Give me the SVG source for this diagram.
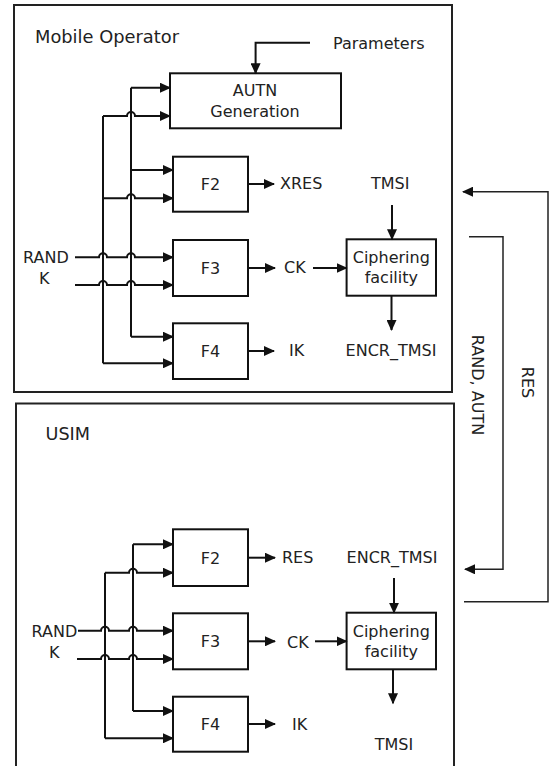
<svg xmlns="http://www.w3.org/2000/svg" width="549" height="766" viewBox="0 0 549 766">
<defs>
<marker id="ah" markerUnits="userSpaceOnUse" markerWidth="12" markerHeight="10" refX="10" refY="5" orient="auto">
<path d="M0,0 L11,5 L0,10 Z" fill="#111"/>
</marker>
<style>
.frame{fill:#fff;stroke:#222;stroke-width:2}
.box{fill:#fff;stroke:#111;stroke-width:2}
.ln{fill:none;stroke:#111;stroke-width:2}
.ar{fill:none;stroke:#111;stroke-width:2;marker-end:url(#ah)}
.thin{fill:none;stroke:#222;stroke-width:1.5}
.thinar{fill:none;stroke:#222;stroke-width:1.5;marker-end:url(#ah)}
text{font-family:"DejaVu Sans","Liberation Sans",sans-serif;font-size:16px;fill:#222}
.c{text-anchor:middle}
.title{font-size:17.5px}
</style>
</defs>
<rect width="549" height="766" fill="#fff"/>

<g id="mobile-operator">
<rect class="frame" x="14" y="5" width="438" height="387"/>
<text class="title" x="35" y="43" textLength="144" lengthAdjust="spacingAndGlyphs">Mobile Operator</text>
</g>
<g id="usim">
<rect class="frame" x="16" y="403.5" width="438" height="370"/>
<text class="title" x="45.5" y="440" textLength="44.5" lengthAdjust="spacingAndGlyphs">USIM</text>
</g>

<g id="mo-autn"><rect class="box" x="170" y="73.3" width="171" height="55"/><text class="c" x="255" y="96">AUTN</text><text class="c" x="255" y="117">Generation</text></g>
<g id="mo-f2"><rect class="box" x="173" y="156.7" width="75" height="55"/><text class="c" x="210.5" y="190">F2</text></g>
<g id="mo-f3"><rect class="box" x="173" y="240" width="75" height="56"/><text class="c" x="210.5" y="274">F3</text></g>
<g id="mo-f4"><rect class="box" x="173" y="323.3" width="75" height="55.7"/><text class="c" x="210.5" y="357">F4</text></g>
<g id="mo-cipher"><rect class="box" x="346.6" y="239.3" width="89.4" height="56.4"/><text class="c" x="391.3" y="262.5">Ciphering</text><text class="c" x="391.3" y="283">facility</text></g>
<g id="mo-labels">
<text x="333" y="48.5">Parameters</text>
<text x="280" y="189">XRES</text>
<text x="371" y="189">TMSI</text>
<text x="23" y="263">RAND</text>
<text x="39" y="284">K</text>
<text x="284" y="273">CK</text>
<text x="289" y="356">IK</text>
<text class="c" x="391" y="356">ENCR_TMSI</text>
</g>

<g id="us-f2"><rect class="box" x="173" y="529.3" width="75" height="56.7"/><text class="c" x="210.5" y="563.5">F2</text></g>
<g id="us-f3"><rect class="box" x="173" y="613.3" width="75" height="56"/><text class="c" x="210.5" y="647">F3</text></g>
<g id="us-f4"><rect class="box" x="173" y="696.7" width="75" height="55"/><text class="c" x="210.5" y="730">F4</text></g>
<g id="us-cipher"><rect class="box" x="346.6" y="612.7" width="89.4" height="56.6"/><text class="c" x="391.3" y="636.5">Ciphering</text><text class="c" x="391.3" y="656.5">facility</text></g>
<g id="us-labels">
<text x="282" y="562.5">RES</text>
<text class="c" x="392" y="562.5">ENCR_TMSI</text>
<text x="31.5" y="636.5">RAND</text>
<text x="49" y="657.5">K</text>
<text x="287" y="647.5">CK</text>
<text x="292" y="730">IK</text>
<text class="c" x="394" y="750">TMSI</text>
</g>

<g id="link-labels">
<text class="c" transform="translate(478,385) rotate(90)" x="0" y="5.8">RAND, AUTN</text>
<text class="c" transform="translate(528,382.5) rotate(90)" x="0" y="5.8">RES</text>
</g>

<g id="connectors">
<path class="ar" d="M310,42.7 H255.6 V73.3"/>
<path class="ln" d="M131,87.7 V336.7"/>
<path class="ln" d="M103,116 V363.3"/>
<path class="ar" d="M131,87.7 H170"/>
<path class="ar" d="M103,116 H127 A4,4 0 0 1 135,116 H170"/>
<path class="ar" d="M131,170 H173"/>
<path class="ar" d="M103,198.3 H127 A4,4 0 0 1 135,198.3 H173"/>
<path class="ar" d="M75,257.3 H99 A4,4 0 0 1 107,257.3 H127 A4,4 0 0 1 135,257.3 H173"/>
<path class="ar" d="M75,285 H99 A4,4 0 0 1 107,285 H127 A4,4 0 0 1 135,285 H173"/>
<path class="ar" d="M131,336.7 H173"/>
<path class="ar" d="M103,363.3 H173"/>
<path class="ar" d="M248,184 H274"/>
<path class="ar" d="M392,205 V239.3"/>
<path class="ar" d="M248,268 H275"/>
<path class="ar" d="M313,268 H346.6"/>
<path class="ar" d="M391.5,295.7 V330"/>
<path class="ar" d="M248,351 H274"/>
<path class="thinar" d="M469,236.7 H503 V569.3 H465"/>
<path class="thinar" d="M464,601.7 H548 V191.7 H463"/>
<path class="ln" d="M133,544.3 V711"/>
<path class="ln" d="M105,572.7 V738.3"/>
<path class="ar" d="M133,544.3 H173"/>
<path class="ar" d="M105,572.7 H129 A4,4 0 0 1 137,572.7 H173"/>
<path class="ar" d="M78,630.7 H101 A4,4 0 0 1 109,630.7 H129 A4,4 0 0 1 137,630.7 H173"/>
<path class="ar" d="M77,659 H101 A4,4 0 0 1 109,659 H129 A4,4 0 0 1 137,659 H173"/>
<path class="ar" d="M133,711 H173"/>
<path class="ar" d="M105,738.3 H173"/>
<path class="ar" d="M248,557.7 H275"/>
<path class="ar" d="M394,578 V612.7"/>
<path class="ar" d="M248,641.3 H275"/>
<path class="ar" d="M315,641.3 H346.6"/>
<path class="ar" d="M393,669.3 V703.3"/>
<path class="ar" d="M248,724 H275"/>
</g>
</svg>
